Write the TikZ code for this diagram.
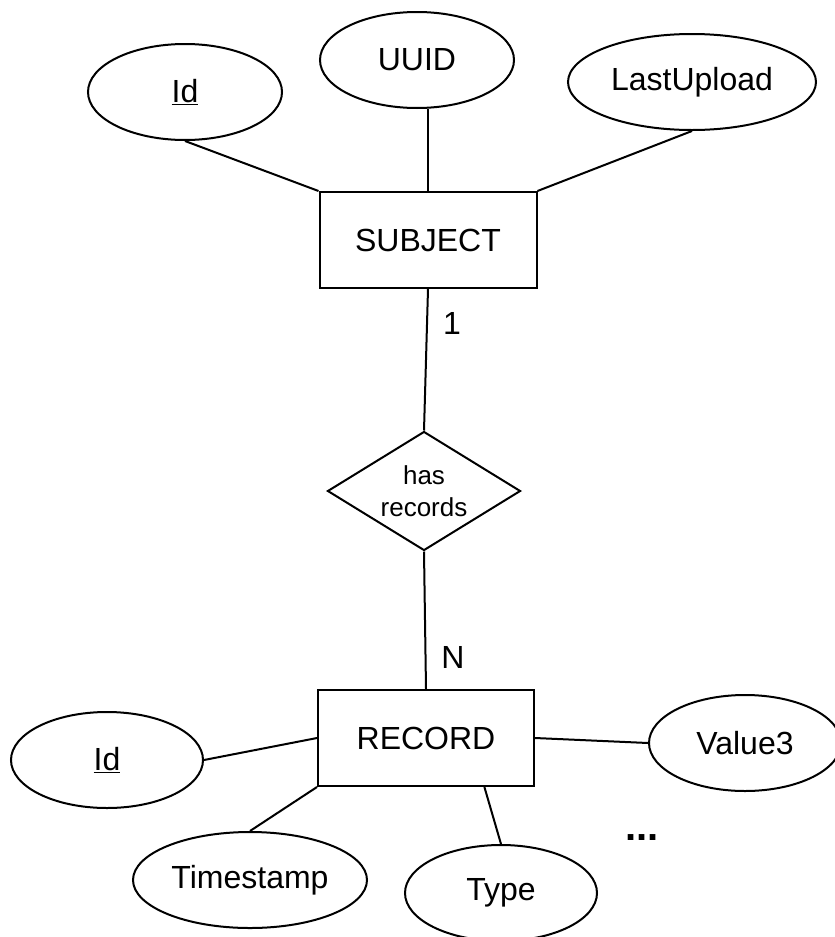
\documentclass[tikz,border=0pt]{standalone}
\usepackage{fontspec}
\setmainfont{Liberation Sans}
\usepackage{tikz}
\usetikzlibrary{shapes.geometric}

\begin{document}
\begin{tikzpicture}[x=1pt,y=-1pt,line width=2pt,
    attr/.style={draw,ellipse,inner sep=0pt,minimum width=194pt,minimum height=96pt,font=\fontsize{32}{38}\selectfont},
    entity/.style={draw,rectangle,inner sep=0pt,minimum width=217pt,minimum height=96pt,font=\fontsize{32}{38}\selectfont},
    relation/.style={draw,diamond,aspect=1.62,inner sep=0pt,minimum width=193pt,minimum height=119pt,align=center,font=\fontsize{26}{32}\selectfont},
    card/.style={font=\fontsize{32}{38}\selectfont}]
\useasboundingbox (0,0) rectangle (835,937);
\node[attr] (sid) at (185,92) {\underline{Id}};
\node[attr] (uuid) at (417,60) {UUID};
\node[attr,minimum width=248pt] (last) at (692,82) {LastUpload};
\node[entity] (subj) at (428,240) {SUBJECT};
\node[relation] (has) at (424,491) {has\\records};
\node[entity,minimum width=216pt] (rec) at (426,738) {RECORD};
\node[attr,minimum width=192pt] (rid) at (107,760) {\underline{Id}};
\node[attr,minimum width=192pt] (val) at (745,743) {Value3};
\node[attr,minimum width=234pt] (ts) at (250,880) {Timestamp};
\node[attr,minimum width=192pt] (type) at (501,893) {Type};
\node[card] (one) at (452,323) {1};
\node[card] (many) at (453,657) {N};
\node[font=\bfseries\fontsize{40}{48}\selectfont] (more) at (642,838) {...};

\draw (sid.south)edge(subj.north west)
      (subj.north |- uuid.south)edge(subj.north)
      (last.south)edge(subj.north east)
      (subj.south)edge(has.north)
      (has.south)edge(rec.north)
      (rid.east)edge(rec.west)
      (rec.east)edge(val.west)
      (rec.south west)edge(ts.north)
      (rec.-40)edge(type.north);
\end{tikzpicture}
\end{document}
